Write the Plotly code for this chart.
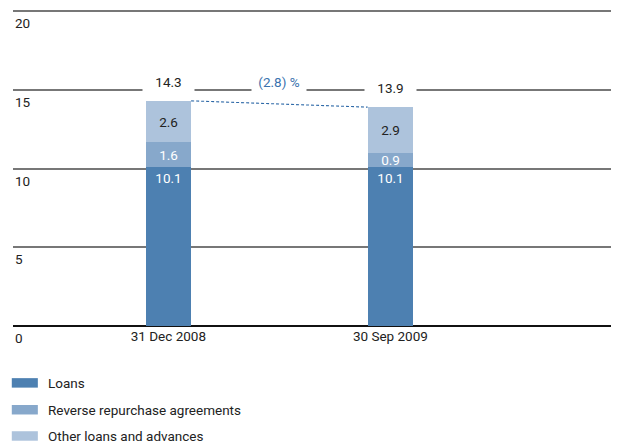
import plotly.graph_objects as go

dates = ["31 Dec 2008", "30 Sep 2009"]
loans = [10.1, 10.1]
reverse_repos = [1.6, 0.9]
other_loans = [2.6, 2.9]
totals = [14.3, 13.9]
change_label = "(2.8) %"
series_names = ["Loans", "Reverse repurchase agreements", "Other loans and advances"]
colors = ["#4d80b1", "#87a8cb", "#adc3dc"]
y_ticks = [0, 5, 10, 15, 20]

FONT = "Roboto, sans-serif"
FS = 13.5
BAR_W = 0.205

x_pos = list(range(len(dates)))

fig = go.Figure()
for name, vals, col, txtcol, anchor in zip(
    series_names,
    [loans, reverse_repos, other_loans],
    colors,
    ["white", "white", "#222"],
    ["end", "middle", "middle"],
):
    fig.add_trace(
        go.Bar(
            x=x_pos,
            y=vals,
            name=name,
            width=BAR_W,
            marker=dict(color=col, line=dict(width=0)),
            text=[f"{v:.1f}" for v in vals],
            textposition="inside",
            insidetextanchor=anchor,
            constraintext="none",
            textfont=dict(family=FONT, size=FS, color=txtcol),
            showlegend=False,
        )
    )

# totals above bars, white box breaks the gridline
for x, t in zip(x_pos, totals):
    fig.add_annotation(
        x=x, y=t, text=f"{t:.1f}", showarrow=False, yanchor="bottom", yshift=7,
        width=45, borderpad=3, bgcolor="white",
        font=dict(family=FONT, size=FS, color="#222"),
    )

fig.add_annotation(
    x=0.5, y=totals[0], text=change_label, showarrow=False, yanchor="bottom", yshift=7,
    width=48, borderpad=3, bgcolor="white",
    font=dict(family=FONT, size=FS, color="#3a72ae"),
)

# dashed connector between bar tops
fig.add_trace(
    go.Scatter(
        x=[x_pos[0] + BAR_W / 2, x_pos[1] - BAR_W / 2],
        y=totals,
        mode="lines",
        line=dict(color="#2f6aa8", width=1.1, dash="3px,2px"),
        hoverinfo="skip",
        showlegend=False,
    )
)

# y tick labels sit just under their gridlines
for v in y_ticks:
    fig.add_annotation(
        xref="paper", yref="y", x=0.0, y=v, text=str(v), showarrow=False,
        xanchor="left", yanchor="top", yshift=-2,
        font=dict(family=FONT, size=FS, color="#222"),
    )

# manual legend below the plot
legend_y = [-0.18, -0.265, -0.348]
for name, col, ly in zip(series_names, colors, legend_y):
    fig.add_shape(
        type="rect", xref="paper", yref="paper",
        x0=-0.002, x1=0.041, y0=ly - 0.015, y1=ly + 0.015,
        fillcolor=col, line=dict(width=0),
    )
    fig.add_annotation(
        xref="paper", yref="paper", x=0.054, y=ly, text=name, showarrow=False,
        xanchor="left", yanchor="middle", font=dict(family=FONT, size=FS, color="#222"),
    )

# page body has an 8px margin, so the figure is shrunk by that much
fig.update_layout(
    width=611,
    height=436,
    margin=dict(l=5, r=0, t=2, b=118, autoexpand=False),
    plot_bgcolor="white",
    paper_bgcolor="white",
    barmode="stack",
    bargap=0,
    font=dict(family=FONT, size=FS, color="#222"),
    xaxis=dict(
        range=[-0.70, 2.03],
        tickmode="array",
        tickvals=x_pos,
        ticktext=dates,
        showgrid=False,
        zeroline=False,
        showline=False,
        ticks="",
        tickfont=dict(size=FS, color="#222"),
    ),
    yaxis=dict(
        range=[0, 20.07],
        tickmode="array",
        tickvals=y_ticks,
        showgrid=True,
        gridcolor="#777777",
        gridwidth=1.6,
        zeroline=True,
        zerolinecolor="#111",
        zerolinewidth=1.6,
        showline=False,
        ticks="",
        showticklabels=False,
    ),
)

fig.write_html("out.html")
